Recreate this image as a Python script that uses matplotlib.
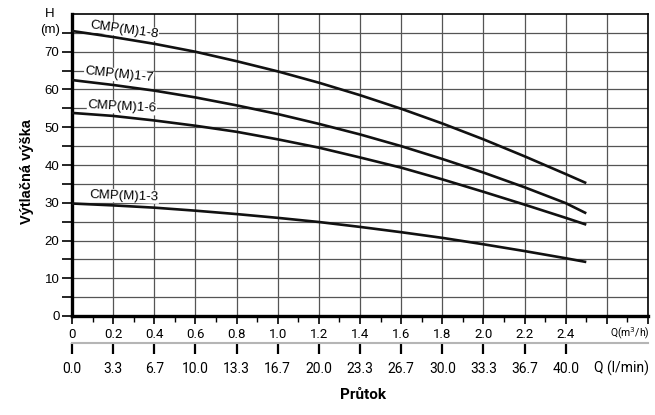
import matplotlib
matplotlib.use("Agg")
import matplotlib.pyplot as plt
import numpy as np

plt.rcParams["font.family"] = ["Liberation Sans", "DejaVu Sans"]

# průtok Q (m3/h) a dopravní výška H (m)
q = [0, 0.2, 0.4, 0.6, 0.8, 1.0, 1.2, 1.4, 1.6, 1.8, 2.0, 2.2, 2.4, 2.5]
h_18 = [75.5, 73.9, 72.1, 70.0, 67.5, 64.8, 61.8, 58.5, 54.9, 51.0, 46.8, 42.3, 37.6, 35.2]
h_17 = [62.5, 61.2, 59.7, 57.9, 55.8, 53.5, 50.9, 48.1, 45.0, 41.6, 38.0, 34.1, 29.9, 27.2]
h_16 = [53.8, 53.0, 51.8, 50.4, 48.8, 46.8, 44.6, 42.0, 39.3, 36.2, 32.9, 29.5, 26.0, 24.2]
h_13 = [29.8, 29.3, 28.7, 27.9, 27.0, 26.0, 24.9, 23.6, 22.2, 20.7, 19.0, 17.2, 15.3, 14.3]

curves = [
    ("CMP(M)1-8", h_18, 124, 30, -8),
    ("CMP(M)1-7", h_17, 119, 75, -6),
    ("CMP(M)1-6", h_16, 122, 107, -3),
    ("CMP(M)1-3", h_13, 124, 196, -2),
]

q_ticks = [0, 0.2, 0.4, 0.6, 0.8, 1.0, 1.2, 1.4, 1.6, 1.8, 2.0, 2.2, 2.4, 2.6, 2.8]
q_labels = ["0", "0.2", "0.4", "0.6", "0.8", "1.0", "1.2", "1.4", "1.6", "1.8",
            "2.0", "2.2", "2.4", "", ""]
lpm_labels = ["0.0", "3.3", "6.7", "10.0", "13.3", "16.7", "20.0", "23.3",
              "26.7", "30.0", "33.3", "36.7", "40.0"]
h_ticks = list(range(0, 80, 5))
h_labels = [str(v) if v % 10 == 0 else "" for v in h_ticks]

W, H = 655, 415
fig = plt.figure(figsize=(6.55, 4.15), dpi=100)
ax = fig.add_axes([72 / W, 1 - 316 / H, 576 / W, 302 / H])

for name, hv, tx, ty, rot in curves:
    ax.plot(q, hv, color="#111111", lw=1.9, solid_capstyle="butt", zorder=3)
    fig.text(tx / W, 1 - ty / H, name, fontsize=9.5, ha="center", va="center",
             rotation=rot, zorder=5,
             bbox=dict(facecolor="white", edgecolor="none", pad=0.5))

ax.set_xlim(0, 2.8)
ax.set_ylim(0, 80)
ax.set_xticks(q_ticks, labels=q_labels, fontfamily="Roboto", fontsize=9.5)
ax.set_xticks(np.arange(0.1, 2.8, 0.2), minor=True)
ax.set_yticks(h_ticks, labels=h_labels, fontsize=9.5)
ax.tick_params(axis="x", which="major", length=6, width=1.2, pad=3)
ax.tick_params(axis="x", which="minor", length=4, width=1)
ax.tick_params(axis="y", length=7, width=1.2, pad=2)
ax.grid(True, which="major", color="#555555", lw=0.9)
ax.set_axisbelow(True)

for side, lw in [("left", 2.4), ("bottom", 2.4), ("top", 1.2), ("right", 1.2)]:
    ax.spines[side].set_linewidth(lw)
    ax.spines[side].set_color("black")

# druhá osa průtoku v l/min
sec = ax.secondary_xaxis(-0.089, functions=(lambda x: x * 1000 / 60, lambda x: x * 60 / 1000))
lpm_pos = [v * 1000 / 60 for v in q_ticks[:len(lpm_labels)]]
sec.set_xticks(lpm_pos, labels=lpm_labels, fontfamily="Roboto", fontsize=10)
sec.tick_params(length=8, width=1.6, color="black", pad=6)
sec.spines["bottom"].set_color("#b5b5b5")
sec.spines["bottom"].set_linewidth(1.5)

fig.text(630 / W, 1 - 333 / H, "Q(m$^3$/h)", fontfamily="Roboto", fontsize=7.5,
         ha="center", va="center")
fig.text(622 / W, 1 - 368 / H, "Q (l/min)", fontfamily="Roboto", fontsize=10,
         ha="center", va="center")
fig.text(363 / W, 1 - 395 / H, "Průtok", fontfamily="Roboto", fontsize=11,
         fontweight="bold", ha="center", va="center")
fig.text(27 / W, 1 - 172 / H, "Výtlačná výška", fontsize=10.5, fontweight="bold",
         rotation=90, ha="center", va="center")
fig.text(50 / W, 1 - 14 / H, "H", fontsize=9.5, ha="center", va="center")
fig.text(50 / W, 1 - 30 / H, "(m)", fontsize=9.5, ha="center", va="center")

fig.savefig("out.png", dpi=100)
